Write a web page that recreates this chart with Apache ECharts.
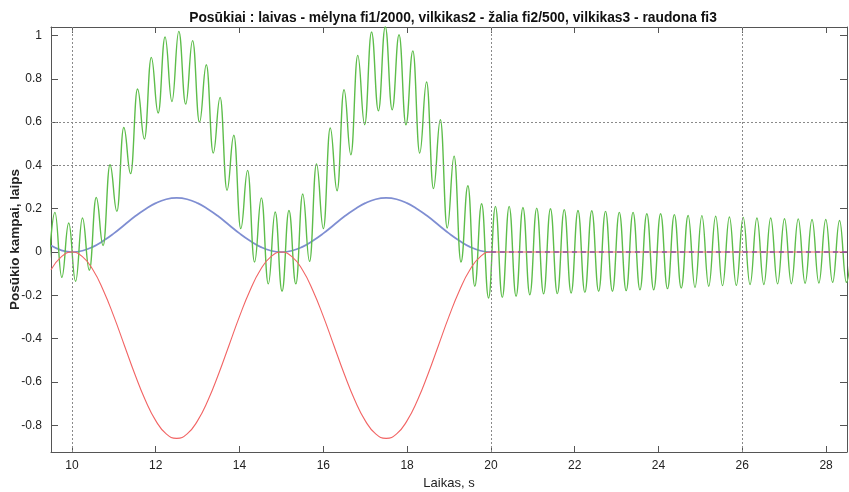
<!DOCTYPE html>
<html>
<head>
<meta charset="utf-8">
<script src="https://cdn.jsdelivr.net/npm/echarts@6/dist/echarts.min.js"></script>
<style>html,body{margin:0;padding:0;background:#fff}#c{width:849px;height:492px}</style>
</head>
<body>
<div id="c"></div>
<script>
// ---- data ----
const titleText = 'Posūkiai : laivas - mėlyna fi1/2000, vilkikas2 - žalia fi2/500, vilkikas3 - raudona fi3';
const xName = 'Laikas, s';
const yName = 'Posūkio kampai, laips';
const xTicks = [10, 12, 14, 16, 18, 20, 22, 24, 26, 28];
const yTicks = [-0.8, -0.6, -0.4, -0.2, 0, 0.2, 0.4, 0.6, 0.8, 1];
const gridX = [10, 20, 26];
const gridY = [0.4, 0.6];

// blue (laivas) and red (vilkikas3) curves
const curveT = [9.5, 9.75, 10, 10.25, 10.5, 10.75, 11, 11.25, 11.5, 11.75, 12, 12.25, 12.5, 12.75, 13, 13.25, 13.5, 13.75, 14, 14.25, 14.5, 14.75, 15,
  15.25, 15.5, 15.75, 16, 16.25, 16.5, 16.75, 17, 17.25, 17.5, 17.75, 18, 18.25, 18.5, 18.75, 19, 19.25, 19.5, 19.75, 20, 28.5];
const blueY = [0.03, 0.008, 0, 0.006, 0.024, 0.052, 0.086, 0.125, 0.164, 0.198, 0.226, 0.244, 0.25, 0.244, 0.226, 0.198, 0.164, 0.125, 0.086, 0.052, 0.024, 0.006, 0,
  0.006, 0.024, 0.052, 0.086, 0.125, 0.164, 0.198, 0.226, 0.244, 0.25, 0.244, 0.226, 0.198, 0.164, 0.125, 0.086, 0.052, 0.024, 0.006, 0, 0];
const redY = [-0.082, -0.021, 0, -0.021, -0.082, -0.177, -0.297, -0.43, -0.563, -0.683, -0.778, -0.839, -0.86, -0.839, -0.778, -0.683, -0.563, -0.43, -0.297, -0.177, -0.082, -0.021, 0,
  -0.021, -0.082, -0.177, -0.297, -0.43, -0.563, -0.683, -0.778, -0.839, -0.86, -0.839, -0.778, -0.683, -0.563, -0.43, -0.297, -0.177, -0.082, -0.021, 0, 0];

// green (vilkikas2): peaks and troughs
const greenT = [9.430, 9.594, 9.758, 9.923, 10.087, 10.251, 10.415, 10.580, 10.744, 10.908, 11.073, 11.237, 11.401, 11.565, 11.730, 11.894, 12.058, 12.222, 12.387, 12.551, 12.715,
  12.880, 13.044, 13.208, 13.372, 13.537, 13.701, 13.865, 14.030, 14.194, 14.358, 14.522, 14.687, 14.851, 15.015, 15.180, 15.344, 15.508, 15.672, 15.837, 16.001,
  16.165, 16.329, 16.494, 16.658, 16.822, 16.987, 17.151, 17.315, 17.479, 17.644, 17.808, 17.972, 18.137, 18.301, 18.465, 18.629, 18.794, 18.958, 19.122, 19.286,
  19.451, 19.615, 19.779, 19.944, 20.108, 20.272, 20.436, 20.601, 20.765, 20.929, 21.094, 21.258, 21.422, 21.586, 21.751, 21.915, 22.079, 22.243, 22.408, 22.572,
  22.736, 22.901, 23.065, 23.229, 23.393, 23.558, 23.722, 23.886, 24.051, 24.215, 24.379, 24.543, 24.708, 24.872, 25.036, 25.200, 25.365, 25.529, 25.693, 25.858,
  26.022, 26.186, 26.350, 26.515, 26.679, 26.843, 27.008, 27.172, 27.336, 27.500, 27.665, 27.829, 27.993, 28.157, 28.322, 28.486, 28.650];
const greenY = [-0.12, 0.183, -0.117, 0.134, -0.135, 0.157, -0.084, 0.252, 0.03, 0.403, 0.188, 0.575, 0.362, 0.753, 0.522, 0.899, 0.642, 0.993, 0.695, 1.019, 0.683,
  0.976, 0.599, 0.865, 0.457, 0.714, 0.285, 0.539, 0.108, 0.377, -0.046, 0.25, -0.147, 0.185, -0.181, 0.192, -0.147, 0.268, -0.043, 0.407, 0.108,
  0.573, 0.283, 0.749, 0.449, 0.908, 0.588, 1.016, 0.652, 1.04, 0.657, 1.003, 0.588, 0.929, 0.457, 0.785, 0.293, 0.611, 0.111, 0.443, -0.046,
  0.306, -0.158, 0.223, -0.212, 0.211, -0.209, 0.211, -0.204, 0.206, -0.197, 0.203, -0.193, 0.2, -0.192, 0.196, -0.189, 0.192, -0.186, 0.191, -0.181,
  0.188, -0.181, 0.183, -0.178, 0.183, -0.174, 0.177, -0.174, 0.177, -0.169, 0.173, -0.166, 0.169, -0.163, 0.168, -0.158, 0.165, -0.155, 0.162, -0.154,
  0.16, -0.15, 0.157, -0.15, 0.157, -0.147, 0.154, -0.146, 0.153, -0.144, 0.15, -0.143, 0.15, -0.14, 0.146, -0.14, 0.145];

// ---- chart ----
const X_MIN = 9.5, X_MAX = 28.5, Y_MIN = -0.923, Y_MAX = 1.039;
const FONT = 'Liberation Sans, Arial, Helvetica, sans-serif';
const AX = '#555';

const pairs = (t, y) => t.map((v, i) => [v, y[i]]);
const blueMain = pairs(curveT, blueY).filter(p => p[0] <= 20);
const blueTail = pairs(curveT, blueY).filter(p => p[0] >= 20);

function xAxisDef(pos, showLabel) {
  return {
    type: 'value', position: pos, min: X_MIN, max: X_MAX,
    axisLine: { show: true, onZero: false, lineStyle: { color: AX, width: 1 } },
    axisTick: { show: true, inside: true, length: 6, customValues: xTicks, lineStyle: { color: AX } },
    axisLabel: { show: showLabel, customValues: xTicks, margin: 8, color: '#222', fontSize: 12, fontFamily: FONT },
    splitLine: { show: false },
    name: showLabel ? xName : '', nameLocation: 'middle', nameGap: 25, nameMoveOverlap: false,
    nameTextStyle: { color: '#222', fontSize: 13, fontFamily: FONT }
  };
}
function yAxisDef(pos, showLabel) {
  return {
    type: 'value', position: pos, min: Y_MIN, max: Y_MAX,
    axisLine: { show: true, onZero: false, lineStyle: { color: AX, width: 1 } },
    axisTick: { show: true, inside: true, length: 7, customValues: yTicks, lineStyle: { color: AX } },
    axisLabel: { show: showLabel, customValues: yTicks, margin: 9, color: '#222', fontSize: 12, fontFamily: FONT,
      formatter: v => String(Math.round(v * 10) / 10) },
    splitLine: { show: false },
    name: showLabel ? yName : '', nameLocation: 'middle', nameGap: 29, nameMoveOverlap: false,
    nameTextStyle: { color: '#222', fontSize: 13.5, fontWeight: 'bold', fontFamily: FONT }
  };
}

const chart = echarts.init(document.getElementById('c'), null, { renderer: 'canvas' });
chart.setOption({
  animation: false,
  backgroundColor: '#fff',
  title: {
    text: titleText, left: 448, top: 6, textAlign: 'center',
    textStyle: { fontSize: 13.8, fontWeight: 'bold', color: '#111', fontFamily: FONT }
  },
  grid: { left: 51, top: 27, right: 2, bottom: 40, containLabel: false, outerBoundsMode: 'none' },
  xAxis: [xAxisDef('bottom', true), xAxisDef('top', false)],
  yAxis: [yAxisDef('left', true), yAxisDef('right', false)],
  series: [
    {
      name: 'grid', type: 'line', data: [], silent: true,
      markLine: {
        silent: true, symbol: 'none', label: { show: false },
        lineStyle: { color: '#8a8a8a', type: [2, 2], width: 1 },
        data: gridX.map(v => ({ xAxis: v })).concat(gridY.map(v => ({ yAxis: v })))
      }
    },
    {
      name: 'laivas', type: 'line', data: blueMain, smooth: true, showSymbol: false,
      lineStyle: { color: '#7f8ed2', width: 1.7 }, z: 3
    },
    {
      name: 'vilkikas2', type: 'line', data: pairs(greenT, greenY), smooth: 0.45, smoothMonotone: 'x', showSymbol: false,
      lineStyle: { color: '#5dbd4a', width: 1.4 }, z: 4
    },
    {
      name: 'vilkikas3', type: 'line', data: pairs(curveT, redY), smooth: true, showSymbol: false,
      lineStyle: { color: '#f26464', width: 1.1 }, z: 5
    },
    {
      name: 'laivas-tail', type: 'line', data: blueTail, showSymbol: false,
      lineStyle: { color: '#8a4f9e', width: 1.4, type: [5, 4] }, z: 6
    }
  ]
});
</script>
</body>
</html>
